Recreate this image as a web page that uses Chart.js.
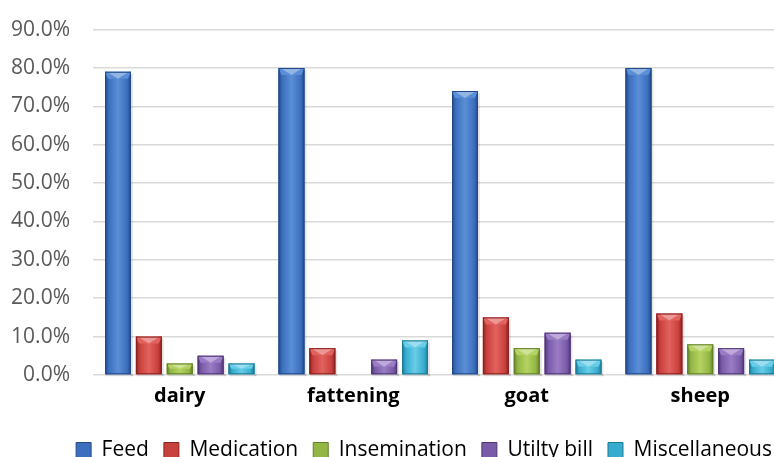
<!DOCTYPE html>
<html>
<head>
	<title>Cost shares by farm type</title>
	<script src="https://cdn.jsdelivr.net/npm/chart.js"></script>
	<style>
		body { margin: 0; background: #fff; overflow: hidden; }
		#wrap { position: relative; top: -6px; width: 790px; height: 478px; }
	</style>
</head>
<body>
	<!-- the chart runs a little past the edges of the page -->
	<div id="wrap">
		<canvas id="chart" width="790" height="478"></canvas>
	</div>

	<script type="text/javascript">

		var farmTypes = ['dairy', 'fattening', 'goat', 'sheep'];
		var feed = [79, 80, 74, 80];
		var medication = [10, 7, 15, 16];
		var insemination = [3, 0, 7, 8];
		var utilityBill = [5, 4, 11, 7];
		var miscellaneous = [3, 9, 4, 4];

		var seriesNames = ['Feed', 'Medication', 'Insemination', 'Utilty bill', 'Miscellaneous'];
		var seriesData = [feed, medication, insemination, utilityBill, miscellaneous];
		// base, dark edge, light centre
		var seriesColors = [
			['#3c70be', '#22498a', '#5a8ed6'],
			['#c9413d', '#8a2220', '#e2625e'],
			['#93b644', '#62802a', '#b5d362'],
			['#7a5ba8', '#513676', '#9a7cc6'],
			['#38acce', '#1d7a96', '#68cde8']
		];

		function shade(c, x, w, i) {
			var g = c.createLinearGradient(x, 0, x + w, 0);
			g.addColorStop(0, seriesColors[i][1]);
			g.addColorStop(0.15, seriesColors[i][0]);
			g.addColorStop(0.5, seriesColors[i][2]);
			g.addColorStop(0.85, seriesColors[i][0]);
			g.addColorStop(1, seriesColors[i][1]);
			return g;
		}

		// shaded bars with a lighter bevel on top and a soft shadow
		var bevel = {
			id: 'bevel',
			afterDatasetsDraw: function(chart) {
				var c = chart.ctx;
				chart.data.datasets.forEach(function(ds, i) {
					chart.getDatasetMeta(i).data.forEach(function(bar) {
						var h = bar.base - bar.y;
						if (h < 0.5) return;
						var l = bar.x - bar.width / 2, r = bar.x + bar.width / 2, t = bar.y;
						var bh = Math.min(7, h / 2);
						c.save();
						c.fillStyle = 'rgba(0,0,0,0.10)';
						c.fillRect(l + 1, bar.base, bar.width + 1, 2);
						c.fillRect(r, t + 2, 2, h);
						c.fillStyle = shade(c, l, bar.width, i);
						c.fillRect(l, t, bar.width, h);
						c.fillStyle = seriesColors[i][2];
						c.beginPath();
						c.moveTo(l, t);
						c.lineTo(r, t);
						c.lineTo(r - 3, t + bh);
						c.lineTo(l + 3, t + bh);
						c.closePath();
						c.fill();
						c.fillStyle = 'rgba(255,255,255,0.35)';
						c.beginPath();
						c.moveTo(l + 2, t);
						c.lineTo(r - 2, t);
						c.lineTo(bar.x, t + bh);
						c.closePath();
						c.fill();
						c.strokeStyle = seriesColors[i][1];
						c.lineWidth = 1;
						c.strokeRect(l + 0.5, t + 0.5, bar.width - 1, h - 1);
						c.restore();
					});
				});
			}
		};

		var datasets = seriesNames.map(function(name, i) {
			return {
				label: name,
				data: seriesData[i],
				backgroundColor: seriesColors[i][0],
				borderWidth: 0,
				barPercentage: 0.84,
				categoryPercentage: 0.89
			};
		});

		var config = {
			type: 'bar',
			data: {
				labels: farmTypes,
				datasets: datasets
			},
			options: {
				responsive: false,
				animation: false,
				layout: { padding: { top: 11, right: 3, left: 6, bottom: 1.5 } },
				plugins: {
					legend: {
						position: 'bottom',
						align: 'end',
						labels: {
							color: '#1a1a1a',
							font: { family: 'Open Sans', size: 21 },
							boxWidth: 15,
							boxHeight: 15,
							padding: 15,
							generateLabels: function(chart) {
								return seriesNames.map(function(name, i) {
									return {
										text: name,
										fillStyle: seriesColors[i][0],
										strokeStyle: seriesColors[i][1],
										lineWidth: 1,
										datasetIndex: i
									};
								});
							}
						}
					},
					tooltip: { enabled: false }
				},
				scales: {
					x: {
						afterFit: function(scale) { scale.height = 49.5; },
						grid: { display: false, drawTicks: false },
						border: { display: false },
						ticks: {
							color: '#000',
							font: { family: 'Open Sans', size: 20, weight: 'bold' },
							padding: 9
						}
					},
					y: {
						min: 0,
						max: 90,
						afterFit: function(scale) { scale.width = 87; },
						grid: { color: '#d9d9d9', lineWidth: 1.5, drawTicks: false },
						border: { display: false },
						ticks: {
							stepSize: 10,
							color: '#595959',
							padding: 23,
							font: { family: 'Open Sans', size: 21 },
							callback: function(v) { return v.toFixed(1) + '%'; }
						}
					}
				}
			},
			plugins: [bevel]
		};

		var ctx = document.getElementById('chart').getContext('2d');
		var chart = new Chart(ctx, config);

	</script>
</body>
</html>
